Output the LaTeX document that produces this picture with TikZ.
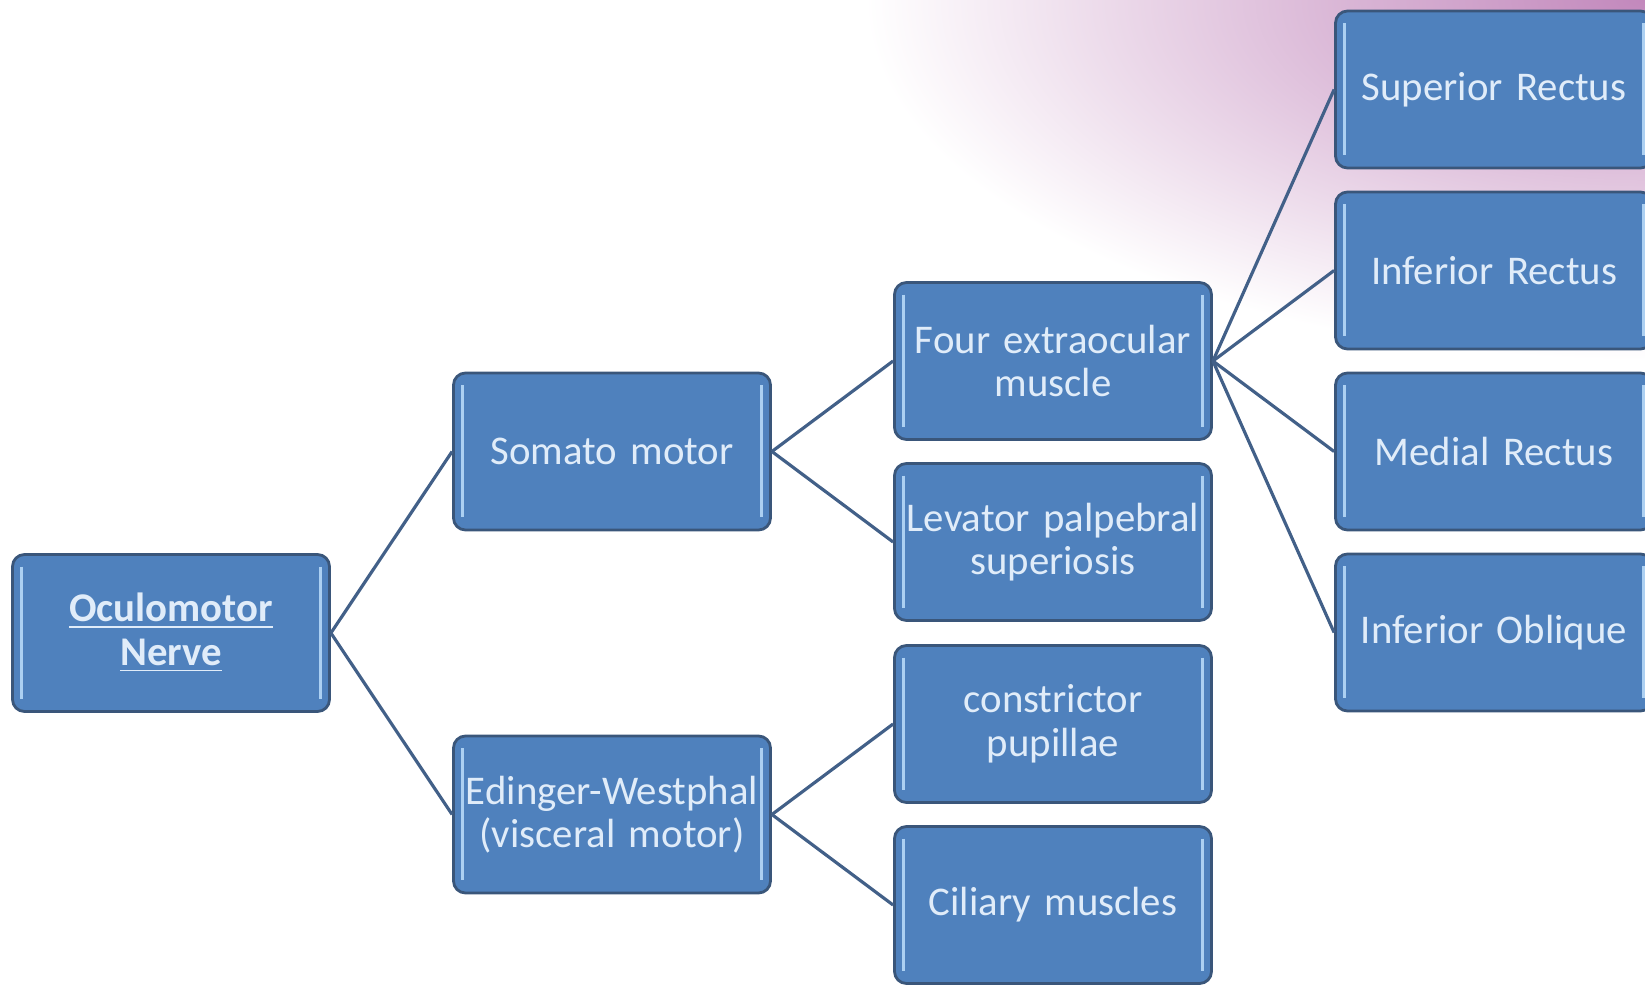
\documentclass[tikz,border=0pt]{standalone}
\usepackage{fontspec}
\setmainfont{Carlito}
\usetikzlibrary{positioning}
\usetikzlibrary{calc}

\definecolor{boxblue}{RGB}{79,129,189}
\definecolor{boxedge}{RGB}{58,86,122}
\definecolor{barblue}{RGB}{172,208,242}
\definecolor{textblue}{RGB}{224,236,249}
\definecolor{linkblue}{RGB}{66,96,136}
\definecolor{cornerpink}{RGB}{194,136,188}

\begin{document}
\begin{tikzpicture}[
    grow'=right,
    level distance=4.41cm,
    level 1/.style={sibling distance=3.63cm},
    level 2/.style={sibling distance=1.81cm},
    level 3/.style={sibling distance=1.81cm},
    edge from parent/.style={draw=linkblue, line width=0.9pt},
    edge from parent path={(\tikzparentnode.east) -- (\tikzchildnode.west)},
    box/.style={draw=boxedge, line width=0.8pt, rounded corners=0.12cm, fill=boxblue, text=textblue,
      minimum height=1.57cm, text width=3.17cm, inner xsep=0pt, align=center,
      font=\fontsize{11.6}{12.4}\selectfont,
      path picture={
        \draw[barblue, line width=0.9pt]
          ([xshift=0.09cm, yshift=-0.12cm]path picture bounding box.north west) --
          ([xshift=0.09cm, yshift=0.13cm]path picture bounding box.south west);
        \draw[barblue, line width=0.9pt]
          ([xshift=-0.09cm, yshift=-0.12cm]path picture bounding box.north east) --
          ([xshift=-0.09cm, yshift=0.13cm]path picture bounding box.south east);
      }}
  ]
    \useasboundingbox (0,0) rectangle (16.45,-9.84);
    \fill[white] (0,0) rectangle (16.45,-9.84);
    % pink corner
    \begin{scope}
      \clip (0,0) rectangle (16.45,-9.84);
      \shade[inner color=cornerpink, outer color=white] (16.45,0) ellipse (7.8cm and 3.6cm);
    \end{scope}

    \node[box] (ocn) at (1.71,-6.33) {\textbf{\underline{Oculomotor}}\\\textbf{\underline{Nerve}}}
      child { node[box] (som) {Somato motor}
        child { node[box] (four) {Four extraocular\\muscle}
          child { node[box] (sup) {Superior Rectus} }
          child { node[box] (inf) {Inferior Rectus} }
          child { node[box] (med) {Medial Rectus} }
          child { node[box] (obl) {Inferior Oblique} } }
        child { node[box] (lev) {Levator palpebral\\superiosis} } }
      child { node[box] (edw) {Edinger-Westphal\\(visceral motor)}
        child { node[box] (con) {constrictor\\pupillae} }
        child { node[box] (cil) {Ciliary muscles} } };
  \end{tikzpicture}
\end{document}
